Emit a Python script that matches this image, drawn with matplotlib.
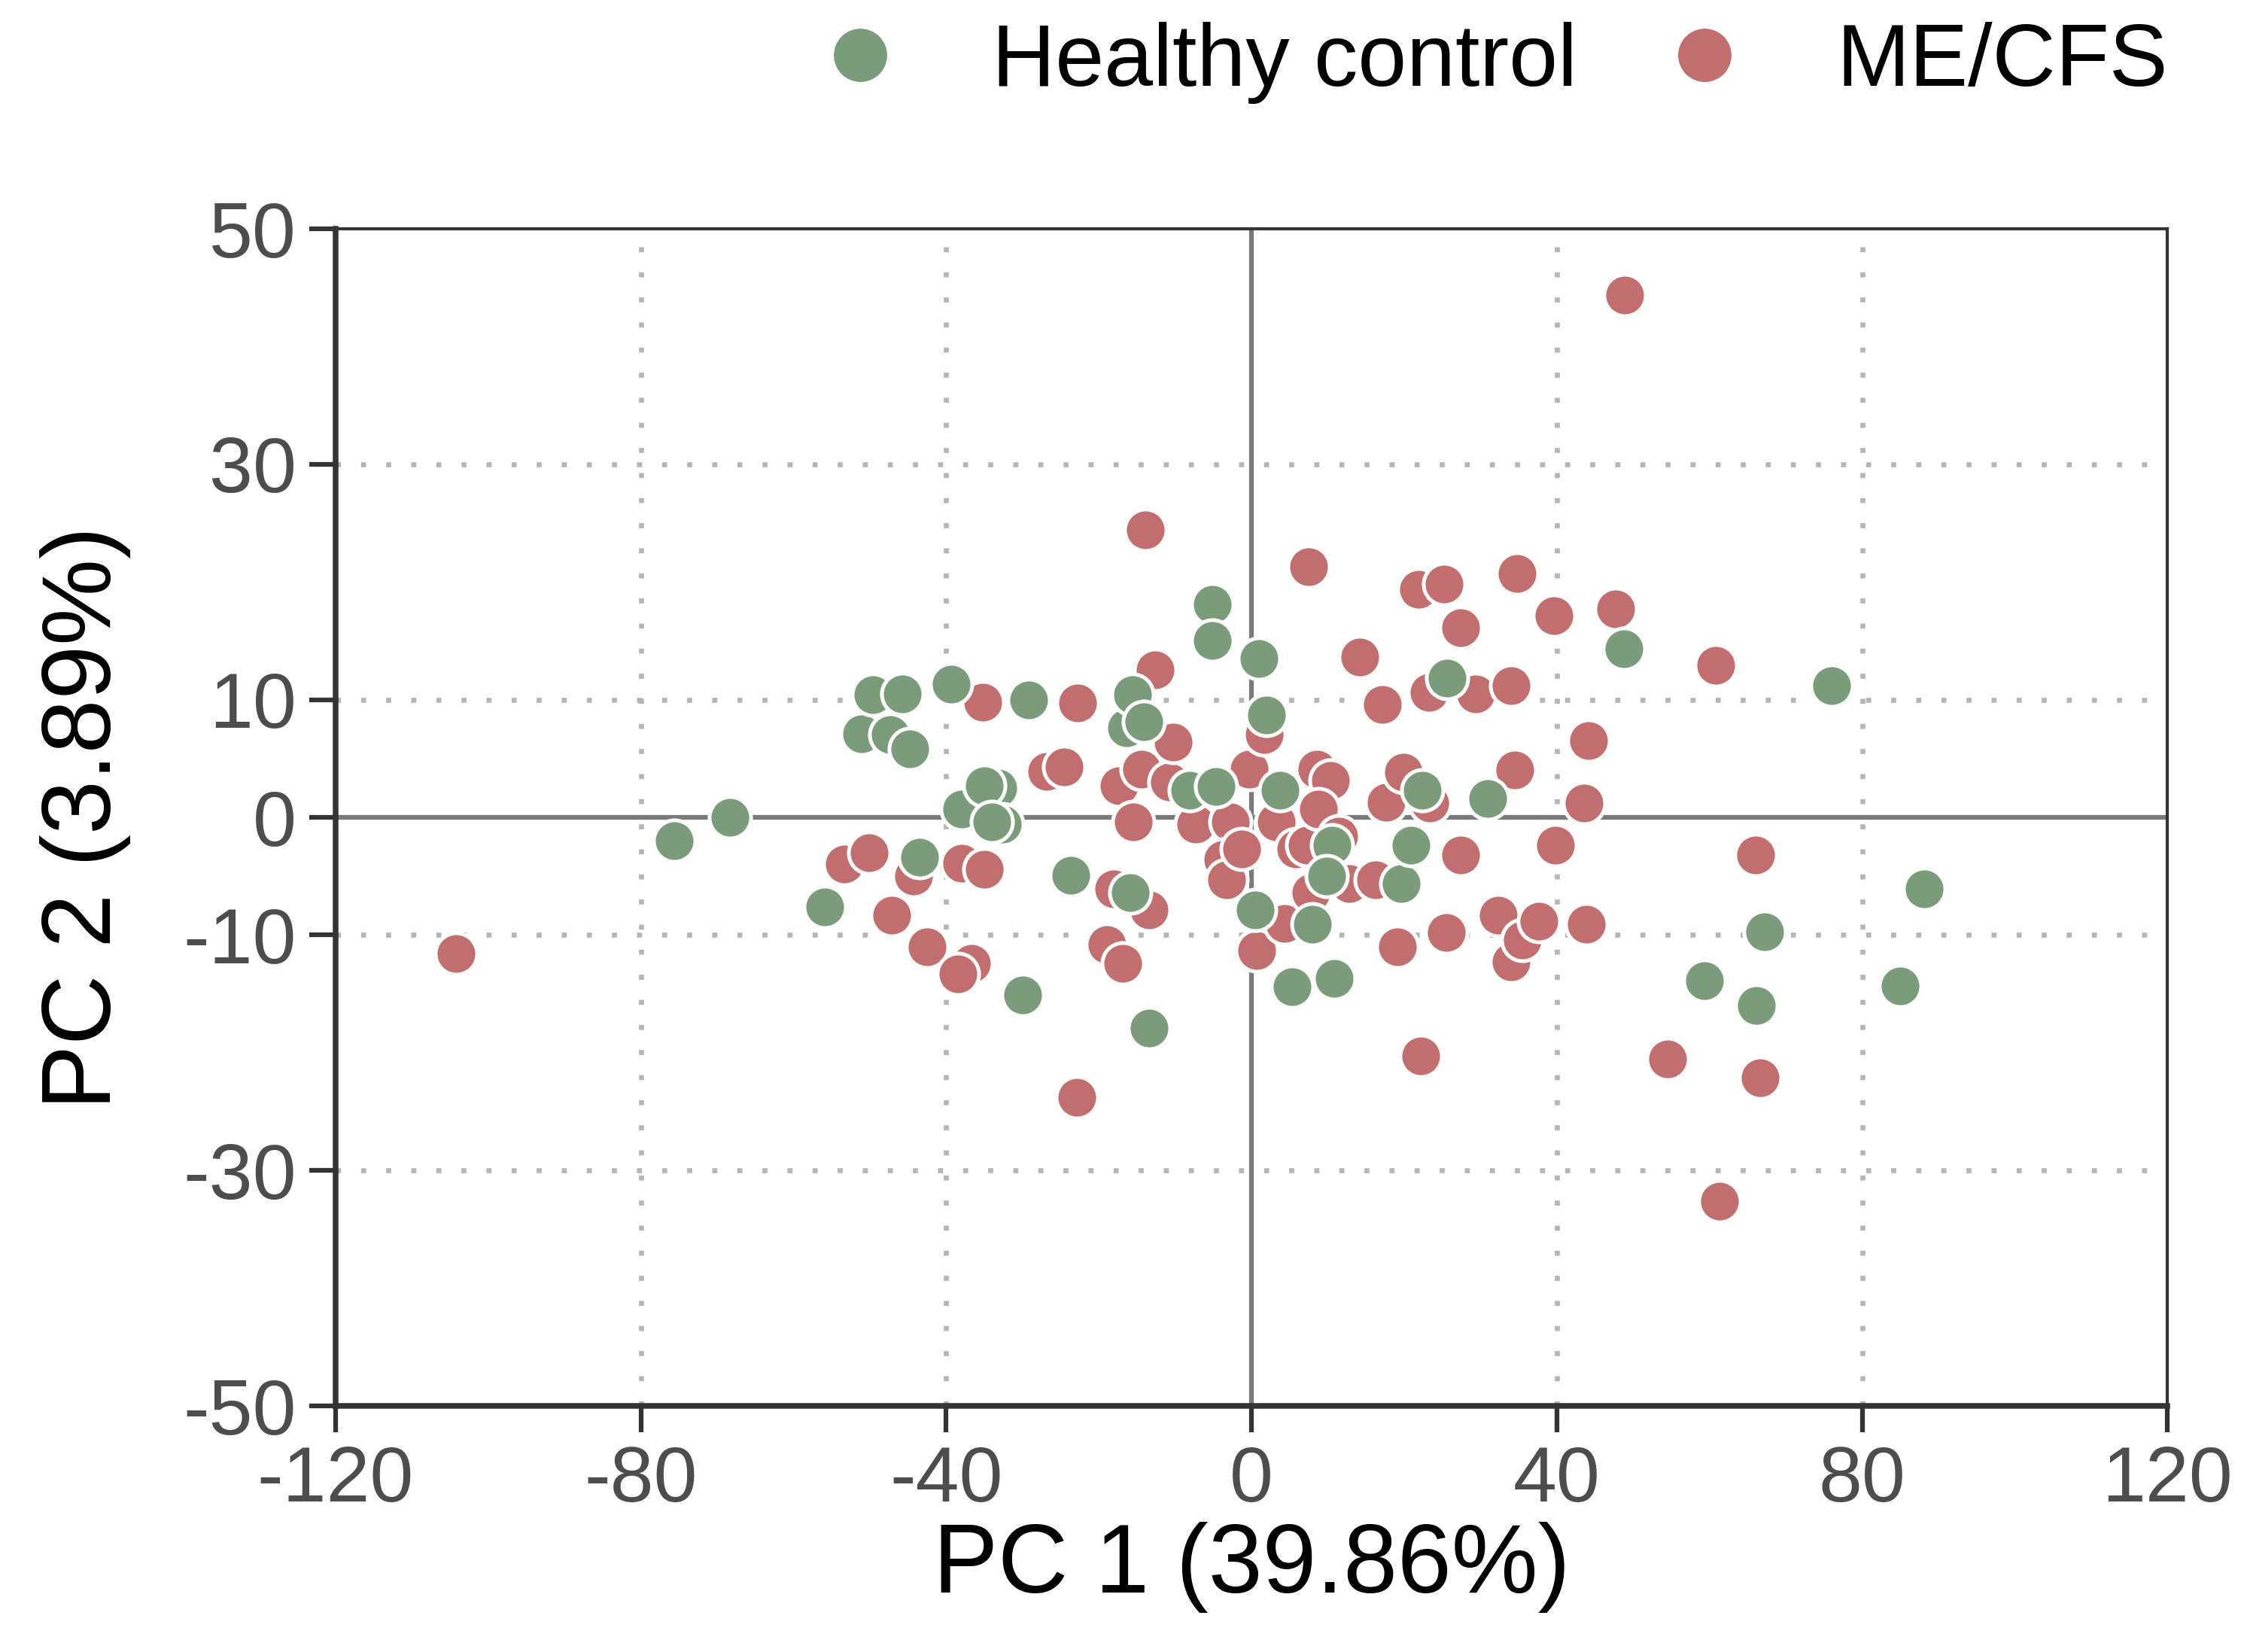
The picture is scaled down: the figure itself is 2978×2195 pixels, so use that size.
import matplotlib
matplotlib.use("Agg")
import matplotlib.pyplot as plt
from matplotlib.lines import Line2D

plt.rcParams["font.family"] = ["Liberation Sans", "DejaVu Sans"]

GREEN = "#7A9C7B"
RED = "#C26E6E"
INK = "#4D4D4D"

# PCA scores
hc_x = [-75.6, -68.3, -55.9, -51.1, -49.6, -45.8, -47.3, -44.8, -43.5, -39.3,
        -38.0, -33.2, -35.0, -32.6, -34.0, -29.2, -30.0, -23.7, -16.4, -15.6,
        -14.1, -15.9, -13.4, -8.1, -5.1, -5.1, -4.6, 1.0, 2.0, 0.5,
        3.7, 5.3, 8.0, 10.5, 9.8, 10.8, 19.6, 20.9, 22.4, 25.6,
        30.9, 48.8, 76.0, 59.3, 66.1, 67.2, 85.0, 88.1]
hc_y = [-2.0, 0.0, -7.6, 7.1, 10.4, 10.5, 7.0, 5.8, -3.4, 11.3,
        0.7, 2.5, 2.7, -0.6, -0.4, 10.0, -15.1, -4.9, 7.6, 10.4,
        8.1, -6.4, -17.9, 2.3, 18.1, 15.0, 2.6, 13.5, 8.7, -7.9,
        2.3, -14.4, -9.1, -2.4, -5.0, -13.7, -5.6, -2.4, 2.3, 11.8,
        1.6, 14.3, 11.2, -13.9, -16.0, -9.7, -14.3, -6.1]

me_x = [-104.2, -53.3, -50.1, -47.1, -44.3, -42.5, -38.0, -35.0, -36.7, -38.5,
        -35.2, -26.8, -24.6, -22.8, -22.9, -18.9, -16.9, -18.1, -13.4, -17.4,
        -15.5, -14.4, -10.8, -10.3, -12.6, -13.9, -7.3, -2.8, -3.8, -3.3,
        -1.3, -0.3, 1.7, 3.2, 0.7, 4.3, 5.8, 7.3, 7.8, 7.5,
        8.6, 10.3, 8.8, 11.4, 12.8, 14.2, 17.1, 17.6, 16.3, 19.1,
        19.9, 21.9, 25.2, 27.4, 23.3, 23.4, 29.4, 27.4, 25.5, 22.2,
        32.3, 34.0, 35.5, 37.6, 34.0, 34.5, 34.8, 39.6, 39.8, 43.6,
        44.2, 43.9, 47.7, 48.9, 54.5, 60.8, 61.3, 66.0, 66.6]
me_y = [-11.6, -4.0, -3.0, -8.3, -5.0, -11.0, -3.9, -4.4, -12.4, -13.3,
        9.8, 3.9, 4.3, 9.7, -23.8, -10.8, -12.4, -6.1, -7.9, 2.7,
        -0.4, 4.1, 3.0, 6.4, 12.5, 24.4, -0.6, -0.4, -3.6, -5.3,
        -2.7, 4.1, 7.0, -0.4, -11.3, -9.0, -2.7, -2.4, -6.4, 21.3,
        4.1, 3.1, 0.7, -1.6, -5.6, 13.6, 9.6, 1.3, -5.3, -11.0,
        3.8, 19.4, 19.8, 16.1, 10.6, 1.2, 10.5, -3.2, -9.8, -20.3,
        -8.3, -12.3, -10.4, -8.8, 11.2, 4.0, 20.7, 17.1, -2.4, 1.2,
        6.5, -9.1, 17.7, 44.4, -20.5, 12.9, -32.6, -3.2, -22.1]

x_ticks = [-120, -80, -40, 0, 40, 80, 120]
y_ticks = [50, 30, 10, 0, -10, -30, -50]

fig = plt.figure(figsize=(9.927, 7.317), dpi=300)
ax = fig.add_axes([0.1497, 0.149, 0.8175, 0.7125])

# reference grid: dotted at the non-zero ticks, solid through the origin
for gx in [-80, -40, 40, 80]:
    ax.axvline(gx, color="#B5B5B5", lw=1.6, ls=(0, (1, 4)), zorder=0)
for gy in [-30, -10, 10, 30]:
    ax.axhline(gy, color="#B5B5B5", lw=1.6, ls=(0, (1, 4)), zorder=0)
ax.axvline(0, color="#7A7A7A", lw=1.5, zorder=0)
ax.axhline(0, color="#7A7A7A", lw=1.5, zorder=0)

ax.scatter(me_x, me_y, s=175, c=RED, edgecolors="white", linewidths=1.2, zorder=2)
ax.scatter(hc_x, hc_y, s=175, c=GREEN, edgecolors="white", linewidths=1.2, zorder=3)

ax.set_xlim(-120, 120)
ax.set_ylim(-50, 50)
ax.set_xticks(x_ticks)
ax.set_xticklabels([str(t) for t in x_ticks])
ax.set_yticks(y_ticks)
ax.set_yticklabels([str(t) for t in y_ticks])
ax.tick_params(axis="both", direction="out", length=8.5, width=1.5, color="#333333",
               labelsize=25, labelcolor=INK, pad=4)

for side in ["left", "bottom"]:
    ax.spines[side].set_linewidth(1.8)
    ax.spines[side].set_color("#333333")
for side in ["top", "right"]:
    ax.spines[side].set_linewidth(1.0)
    ax.spines[side].set_color("#333333")

ax.set_xlabel("PC 1 (39.86%)", fontsize=31, color="black")
ax.set_ylabel("PC 2 (3.89%)", fontsize=31, color="black")
ax.xaxis.set_label_coords(0.5, -0.137)
ax.xaxis.label.set_va("center")
ax.yaxis.set_label_coords(-0.1366, 0.5)
ax.yaxis.label.set_va("center")

handles = [
    Line2D([], [], ls="none", marker="o", ms=18, mfc=GREEN, mec="white", label="Healthy control"),
    Line2D([], [], ls="none", marker="o", ms=18, mfc=RED, mec="white", label="ME/CFS"),
]
fig.legend(handles=handles, loc="center right", bbox_to_anchor=(0.983, 0.962),
           ncol=2, frameon=False, fontsize=28, handletextpad=0.9, columnspacing=0.85,
           handlelength=1.2, borderaxespad=0)

fig.savefig("out.png", dpi=300)
plt.close(fig)
